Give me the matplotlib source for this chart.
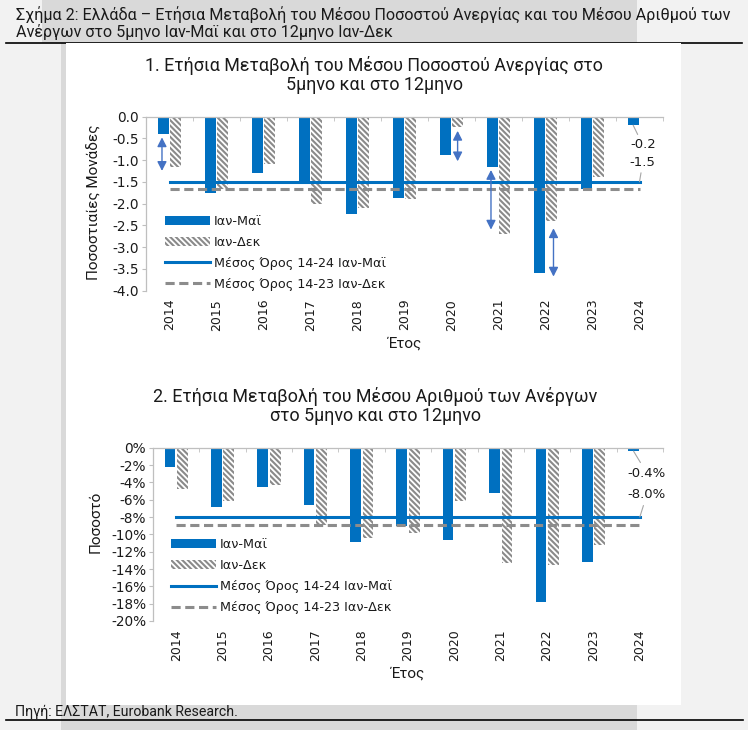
import numpy as np
import matplotlib
matplotlib.use('Agg')
import matplotlib.pyplot as plt
from matplotlib.patches import Rectangle
from matplotlib.lines import Line2D

years = ['2014', '2015', '2016', '2017', '2018', '2019', '2020', '2021', '2022', '2023', '2024']

# 1. change of average unemployment rate (percentage points)
rate_janmay = [-0.4, -1.77, -1.3, -1.5, -2.25, -1.88, -0.88, -1.15, -3.6, -1.67, -0.2]
rate_jandec = [-1.15, -1.67, -1.1, -2.0, -2.1, -1.9, -0.23, -2.7, -2.4, -1.4]
rate_avg_janmay = -1.5
rate_avg_jandec = -1.67

# 2. change of average number of unemployed (%)
unemp_janmay = [-2.2, -6.9, -4.5, -6.6, -10.9, -9.0, -10.7, -5.2, -17.8, -13.2, -0.4]
unemp_jandec = [-4.8, -6.2, -4.3, -8.9, -10.4, -9.9, -6.2, -13.3, -13.5, -11.2]
unemp_avg_janmay = -8.0
unemp_avg_jandec = -8.87

# double arrows on chart 1: (year index, offset, top, bottom)
rate_arrows = [(0, -0.16, -0.48, -1.25), (6, 0.13, -0.33, -1.03),
               (7, -0.16, -1.23, -2.6), (8, 0.17, -2.57, -3.68)]

BLUE = '#0070c0'
HATCH = '#8a8a8a'
DASH = '#8c8c8c'
ARROW = '#4472c4'
SPINE = '#bfbfbf'
TXT = '#1a1a1a'
TITLE_FONT = ['Roboto', 'DejaVu Sans']

plt.rcParams['font.family'] = ['DejaVu Sans']
plt.rcParams['hatch.linewidth'] = 1.5
plt.rcParams['hatch.color'] = HATCH

W, H = 748, 730
fig = plt.figure(figsize=(W / 100, H / 100), dpi=100)
fig.patch.set_facecolor('#f2f2f2')


def box(x0, y0, x1, y1, color, z):
    fig.add_artist(Rectangle((x0 / W, 1 - y1 / H), (x1 - x0) / W, (y1 - y0) / H,
                             transform=fig.transFigure, facecolor=color,
                             edgecolor='none', zorder=z))


def hline(x0, x1, y, z):
    fig.add_artist(Line2D([x0 / W, x1 / W], [1 - y / H, 1 - y / H],
                          transform=fig.transFigure, color='black', lw=1.2, zorder=z))


box(42, 0, 637, 43, '#d9d9d9', -5)
box(61, 43, 637, 730, '#d9d9d9', -5)
hline(6, 742, 43, -4)
box(66, 43, 681, 705, 'white', -3)
hline(6, 743, 720, -2)


def ftext(px, py, s, **kw):
    fig.text(px / W, 1 - py / H, s, **kw)


ftext(16, 23, 'Σχήμα 2: Ελλάδα – Ετήσια Μεταβολή του Μέσου Ποσοστού Ανεργίας και του Μέσου Αριθμού των\n'
      'Ανέργων στο 5μηνο Ιαν-Μαϊ και στο 12μηνο Ιαν-Δεκ',
      ha='left', va='center', fontsize=11.6, family=TITLE_FONT, color=TXT, linespacing=1.1)
ftext(15, 712, 'Πηγή: ΕΛΣΤΑΤ, Eurobank Research.', ha='left', va='center',
      fontsize=10.2, family=TITLE_FONT, color=TXT)


def panel(left, top, right, bottom, janmay, jandec, avg_jm, avg_jd, ymin, ystep, fmt,
          title, tcx, tcy, ylabel, ylx, lly, lab_pos, leg_anchor):
    ax = fig.add_axes([left / W, 1 - bottom / H, (right - left) / W, (bottom - top) / H])
    ax.set_facecolor('none')
    x = np.arange(len(years))
    b1 = ax.bar(x - 0.135, janmay, 0.23, color=BLUE, zorder=2)
    xd = x[:len(jandec)]
    b2 = ax.bar(xd + 0.135, jandec, 0.23, facecolor='white', edgecolor=HATCH,
                hatch='\\\\\\\\\\\\', linewidth=0, zorder=2)
    l1, = ax.plot(x, [avg_jm] * len(x), color=BLUE, lw=2.2, zorder=3)
    l2, = ax.plot(x, [avg_jd] * len(x), color=DASH, lw=2.2, ls=(0, (3, 1.5)), zorder=3)

    ax.set_xlim(-0.5, len(years) - 0.5)
    ax.set_ylim(ymin, 0)
    yt = np.arange(ymin, 0.0001, ystep)
    ax.set_yticks(yt)
    ax.set_yticklabels([fmt(v) for v in yt])
    ax.set_xticks(x)
    ax.set_xticklabels(years)
    ax.set_xticks(np.arange(-0.5, len(years), 1), minor=True)
    ax.tick_params(axis='x', which='major', length=0, pad=6, labelrotation=90,
                   labelsize=9, labelcolor=TXT)
    ax.tick_params(axis='x', which='minor', top=True, bottom=False, direction='in',
                   length=3, color=SPINE)
    ax.tick_params(axis='y', direction='out', length=3, color=SPINE, pad=2,
                   labelsize=9.8, labelcolor=TXT)
    for s in ['right', 'bottom']:
        ax.spines[s].set_visible(False)
    for s in ['left', 'top']:
        ax.spines[s].set_color(SPINE)
        ax.spines[s].set_linewidth(0.9)

    ax.set_xlabel('Έτος', family=TITLE_FONT, fontsize=11, color=TXT, labelpad=4)

    ax.legend([b1, b2, l1, l2],
              ['Ιαν-Μαϊ', 'Ιαν-Δεκ', 'Μέσος Όρος 14-24 Ιαν-Μαϊ', 'Μέσος Όρος 14-23 Ιαν-Δεκ'],
              loc='lower left', bbox_to_anchor=leg_anchor, frameon=False, fontsize=9.2,
              handlelength=3.5, handletextpad=0.35, labelspacing=0.62, borderpad=0,
              borderaxespad=0, labelcolor=TXT)

    # right-hand labels for the latest value and the average
    (tx, ty1), (_, ty2) = lab_pos
    ax.annotate(fmt(janmay[-1], 1), xy=(x[-1] - 0.135, janmay[-1]), xytext=(tx, ty1),
                ha='center', va='center', fontsize=9.5, color=TXT,
                arrowprops=dict(arrowstyle='-', color='#a6a6a6', lw=0.8, shrinkA=1, shrinkB=0))
    ax.annotate(fmt(avg_jm, 1), xy=(x[-1], avg_jm), xytext=(tx, ty2),
                ha='center', va='center', fontsize=9.5, color=TXT,
                arrowprops=dict(arrowstyle='-', color='#a6a6a6', lw=0.8, shrinkA=1, shrinkB=0))

    ftext(tcx, tcy, title, ha='center', va='center', fontsize=12.9, family=TITLE_FONT,
          color=TXT, linespacing=1.1)
    ftext(ylx, lly, ylabel, ha='center', va='center', rotation=90,
          fontsize=11, family=TITLE_FONT, color=TXT)
    return ax


def fmt_rate(v, nd=1):
    return f'{v:.{nd}f}'


def fmt_pct(v, nd=0):
    if nd == 0:
        return f'{v:.0f}%'.replace('-0%', '0%')
    return f'{v:.{nd}f}%'


ax1 = panel(146, 116.5, 663, 290.5, rate_janmay, rate_jandec, rate_avg_janmay, rate_avg_jandec,
            -4.0, 0.5, fmt_rate,
            '1. Ετήσια Μεταβολή του Μέσου Ποσοστού Ανεργίας στο\n5μηνο και στο 12μηνο',
            374, 75, 'Ποσοστιαίες Μονάδες', 94, 202,
            [(10.07, -0.655), (10.07, -1.05)], ((165 - 146) / 517, 0.0))

for i, off, y0, y1 in rate_arrows:
    ax1.annotate('', xy=(i + off, y1), xytext=(i + off, y0),
                 arrowprops=dict(arrowstyle='<|-|>,head_length=0.55,head_width=0.28',
                                 color=ARROW, lw=1, shrinkA=0, shrinkB=0, mutation_scale=10),
                 zorder=4)

ax2 = panel(153, 447.7, 663, 621, unemp_janmay, unemp_jandec, unemp_avg_janmay, unemp_avg_jandec,
            -20, 2, fmt_pct,
            '2. Ετήσια Μεταβολή του Μέσου Αριθμού των Ανέργων\nστο 5μηνο και στο 12μηνο',
            375, 406, 'Ποσοστό', 96, 522,
            [(10.15, -2.92), (10.13, -5.45)], ((171 - 153) / 510, 0.04))

fig.savefig('out.png', dpi=100, facecolor=fig.get_facecolor())
